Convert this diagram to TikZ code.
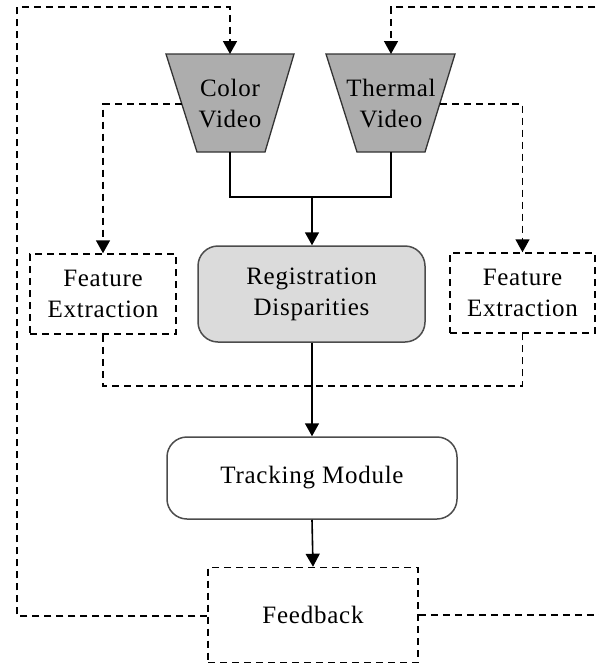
\documentclass[tikz,border=0pt]{standalone}
\usepackage{fontspec}
\setmainfont{Liberation Serif}[LetterSpace=3]
\usetikzlibrary{arrows.meta}
\begin{document}
\begin{tikzpicture}[x=1pt,y=-1pt,
  every node/.style={font=\fontsize{25}{31}\selectfont, align=center, inner sep=0pt},
  dline/.style={draw=black, line width=1.5pt, dash pattern=on 7pt off 5pt},
  sline/.style={draw=black, line width=1.6pt},
  arr/.style={-{Triangle[width=14pt,length=13pt]}},
  trap/.style={draw=black!80, line width=1.3pt, fill=black!32},
  rbox/.style={draw=black!70, line width=1.5pt, rounded corners=20pt}
]
\useasboundingbox (0,0) rectangle (599,664);

% trapezoids
\draw[trap] (166,54) -- (294,54) -- (265,152) -- (197,152) -- cycle;
\draw[trap] (326,54) -- (455,54) -- (425,152) -- (357,152) -- cycle;
\node (cv) at (230,104) {Color\\Video};
\node (tv) at (391,104) {Thermal\\Video};
\coordinate (cvtop) at (230,54);
\coordinate (cvbot) at (230,152);
\coordinate (cvleft) at (181.5,104);
\coordinate (tvtop) at (391,54);
\coordinate (tvbot) at (391,152);
\coordinate (tvright) at (440,104);

% boxes
\node[dline, draw, minimum width=146pt, minimum height=80pt] (fel) at (103,294) {Feature\\Extraction};
\node[dline, draw, minimum width=145pt, minimum height=80pt] (fer) at (522.5,293) {Feature\\Extraction};
\node[rbox, fill=black!14, minimum width=227pt, minimum height=96pt] (reg) at (311.5,294) {Registration\\Disparities};
\node[rbox, fill=white, minimum width=290pt, minimum height=82pt] (trk) at (312,478) {Tracking Module};
\node[dline, draw, minimum width=210pt, minimum height=95pt] (fb) at (313,615) {Feedback};

\coordinate (Ltop) at (17,7);
\coordinate (Rtop) at (605,7);
\coordinate (Lbot) at (17,616);
\coordinate (Rbot) at (605,615);
\coordinate (joinA) at (312,197);

% feedback loops
\draw[dline, arr] (fb.west |- Lbot) -- (Lbot) -- (Ltop) -- (Ltop -| cvtop) -- (cvtop);
\draw[dline, arr] (fb.east |- Rbot) -- (Rbot) -- (Rtop) -- (Rtop -| tvtop) -- (tvtop);

% to feature extraction
\draw[dline, arr] (cvleft) -- (cvleft -| fel.north) -- (fel.north);
\draw[dline, arr] (tvright) -- (tvright -| fer.north) -- (fer.north);

% feature extraction merge
\draw[dline] (fel.south) -- ++(0,51) -| (fer.south);

% solid flow
\draw[sline] (cvbot) |- (joinA) -| (tvbot);
\draw[sline, arr] (joinA) -- (joinA |- reg.north);
\draw[sline, arr] (reg.south -| trk.north) -- (trk.north);
\draw[sline, arr] (trk.south) -- (fb.north);
\end{tikzpicture}
\end{document}
